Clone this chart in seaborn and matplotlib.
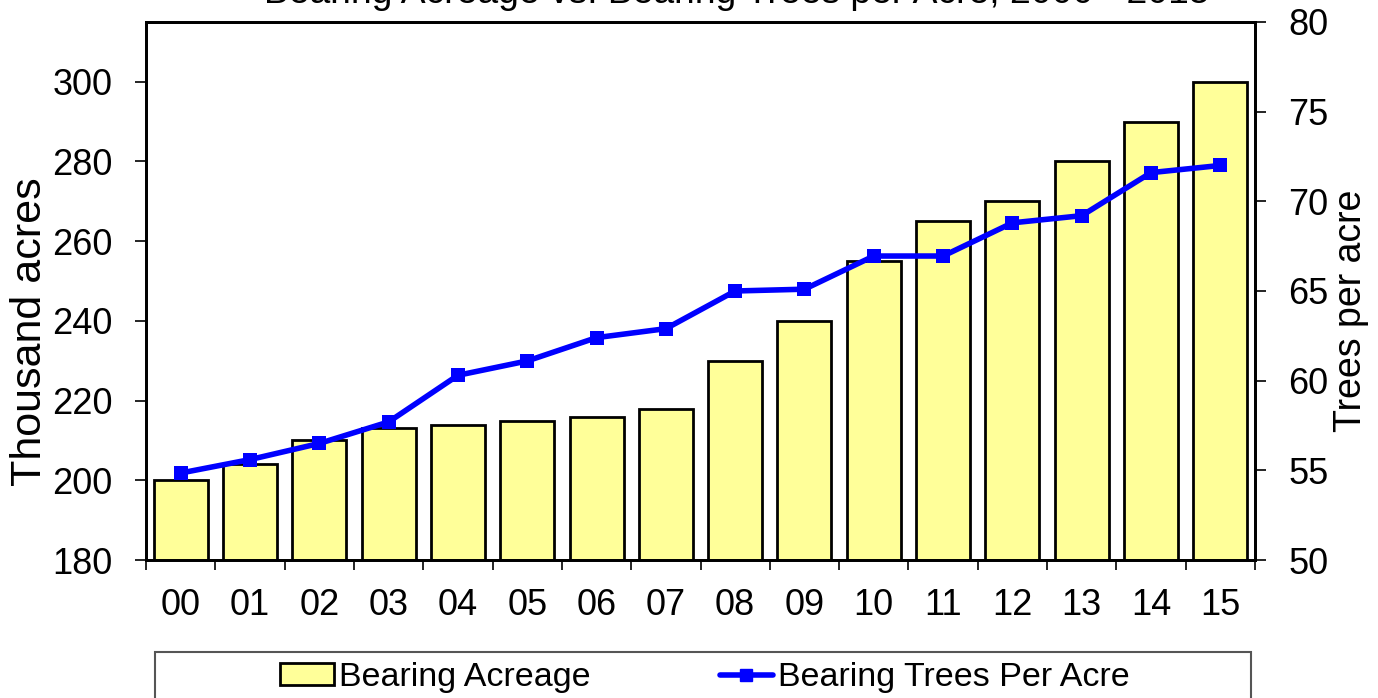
import numpy as np
import pandas as pd
import seaborn as sns
from matplotlib import pyplot as plt
from matplotlib.patches import Rectangle
from matplotlib.lines import Line2D

sns.set_theme(style="ticks")
plt.rcParams['font.family'] = ['Liberation Sans', 'DejaVu Sans']
plt.rcParams['text.color'] = 'black'
plt.rcParams['axes.labelcolor'] = 'black'
plt.rcParams['xtick.color'] = 'black'
plt.rcParams['ytick.color'] = 'black'

years = ['00', '01', '02', '03', '04', '05', '06', '07',
         '08', '09', '10', '11', '12', '13', '14', '15']
acreage = [200, 204, 210, 213, 214, 215, 216, 218,
           230, 240, 255, 265, 270, 280, 290, 300]
trees_per_acre = [54.85, 55.6, 56.5, 57.7, 60.3, 61.1, 62.4, 62.9,
                  65.0, 65.1, 66.95, 66.95, 68.8, 69.2, 71.6, 72.0]

df = pd.DataFrame({'year': years, 'acreage': acreage, 'trees': trees_per_acre})
df['pos'] = df.index

fig = plt.figure(figsize=(13.78, 6.98), dpi=100)
ax = fig.add_axes([0.106, 0.1977, 0.8047, 0.7708])

sns.barplot(data=df, x='year', y='acreage', ax=ax, color='#FFFF99',
            saturation=1, width=0.78, edgecolor='black', linewidth=2)
ax.set_ylim(180, 315)
ax.set_xlim(-0.5, 15.5)
ax.set_yticks(range(180, 301, 20))
ax.set_xlabel('')
ax.set_ylabel('Thousand acres', fontsize=31)
ax.yaxis.set_label_coords(-0.0865, 0.424)

ax2 = ax.twinx()
sns.lineplot(data=df, x='pos', y='trees', ax=ax2, color='#0000FF',
             linewidth=4, marker='s', markersize=10, markeredgewidth=0)
ax2.set_ylim(50, 80)
ax2.set_yticks(range(50, 81, 5))
ax2.set_xlim(-0.5, 15.5)
ax2.set_ylabel('Trees per acre', fontsize=27)
ax2.yaxis.set_label_coords(1.0703, 0.463)

# x ticks sit on category boundaries
ax.set_xticks(np.arange(-0.5, 16, 1), minor=True)
ax.tick_params(axis='x', which='major', length=0, pad=20, labelsize=26)
ax.tick_params(axis='x', which='minor', length=7.5, width=1.2, color='black')
ax.tick_params(axis='y', length=8, width=1.2, color='black', labelsize=26, pad=16)
ax2.tick_params(axis='y', length=8, width=1.2, color='black', labelsize=26, pad=16)

for a in (ax, ax2):
    for s in a.spines.values():
        s.set_linewidth(2)
        s.set_color('black')

fig.text(0.535, 0.9953, 'Bearing Acreage vs. Bearing Trees per Acre, 2000 - 2015',
         ha='center', va='baseline', fontsize=26.8)

# legend box at the bottom
fig.patches.append(Rectangle((0.1125, -0.1), 0.795, 0.1659, transform=fig.transFigure,
                             fill=False, edgecolor='#555555', linewidth=1.5))
handles = [Rectangle((0, 0), 1, 1, facecolor='#FFFF99', edgecolor='black', linewidth=2),
           Line2D([0], [0], color='#0000FF', linewidth=4, marker='s', markersize=8)]
fig.legend(handles, ['Bearing Acreage', 'Bearing Trees Per Acre'], loc='center',
           bbox_to_anchor=(0.5116, 0.029), ncol=2, frameon=False, fontsize=24.5,
           handlelength=1.56, handleheight=0.6, handletextpad=0.15, columnspacing=3.8)

fig.savefig('out.png', dpi=100)
